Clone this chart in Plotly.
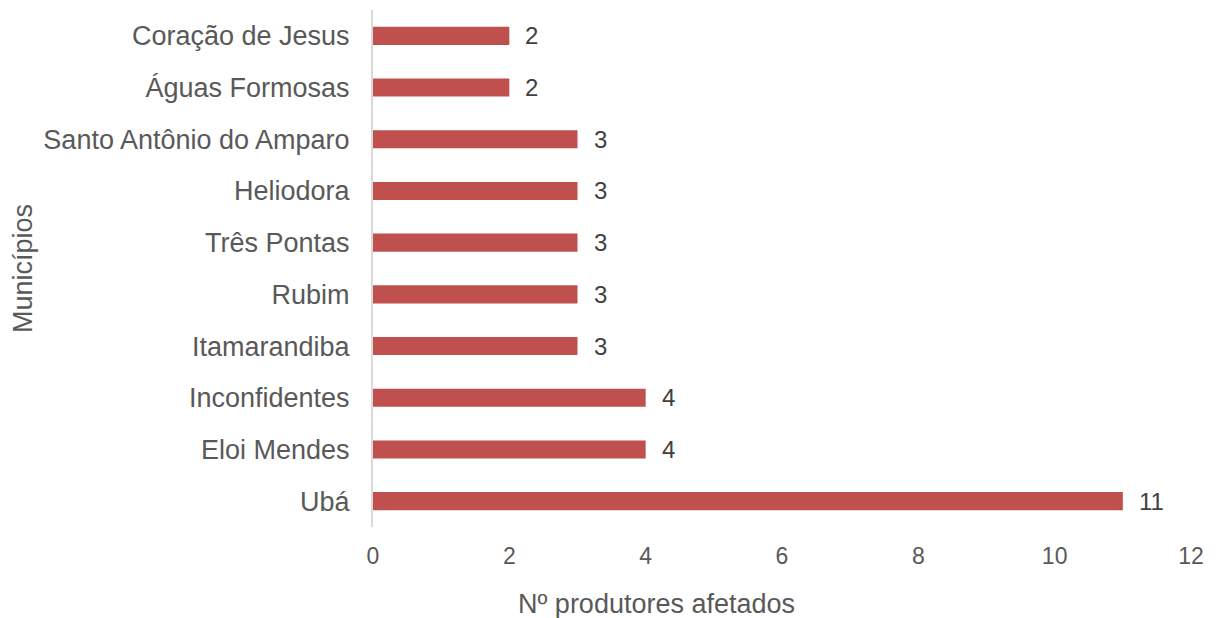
import plotly.graph_objects as go

# dados (de baixo para cima)
municipios = ["Ubá", "Eloi Mendes", "Inconfidentes", "Itamarandiba", "Rubim",
              "Três Pontas", "Heliodora", "Santo Antônio do Amparo",
              "Águas Formosas", "Coração de Jesus"]
produtores = [11, 4, 4, 3, 3, 3, 3, 3, 2, 2]
x_ticks = [0, 2, 4, 6, 8, 10, 12]

FONT = "Liberation Sans, Arial, sans-serif"

fig = go.Figure()

fig.add_trace(go.Bar(
    x=produtores,
    y=municipios,
    orientation="h",
    marker=dict(color="#C0504D", line=dict(width=0)),
    width=0.35,
    hoverinfo="x+y",
))

# rótulos de valor à direita das barras
for m, v in zip(municipios, produtores):
    fig.add_annotation(
        x=v, y=m, text=str(v), showarrow=False,
        xanchor="left", xshift=14,
        font=dict(family=FONT, size=24, color="#404040"),
    )

# título do eixo x (no original não fica centrado no gráfico)
fig.add_annotation(
    x=0.347, y=0, xref="paper", yref="paper",
    text="Nº produtores afetados", showarrow=False,
    xanchor="center", yanchor="middle", yshift=-77,
    font=dict(family=FONT, size=27, color="#595959"),
)

# página tem margem de 8px no body -> figura um pouco menor
fig.update_layout(
    width=1211,
    height=610,
    paper_bgcolor="white",
    plot_bgcolor="white",
    showlegend=False,
    margin=dict(l=365, r=28, t=2, b=91),
    font=dict(family=FONT, color="#595959"),
    xaxis=dict(
        range=[0, 12],
        tickvals=x_ticks,
        showgrid=False,
        zeroline=False,
        showline=False,
        ticks="",
        ticklabelstandoff=13,
        tickfont=dict(size=23, color="#595959"),
    ),
    yaxis=dict(
        range=[-0.5, 9.5],
        showgrid=False,
        zeroline=False,
        showline=True,
        linecolor="#D9D9D9",
        linewidth=2,
        ticks="",
        ticklabelstandoff=16,
        tickfont=dict(size=27, color="#595959"),
        title=dict(text="Municípios", font=dict(size=27, color="#595959"), standoff=10),
    ),
)

fig.write_html("out.html")
